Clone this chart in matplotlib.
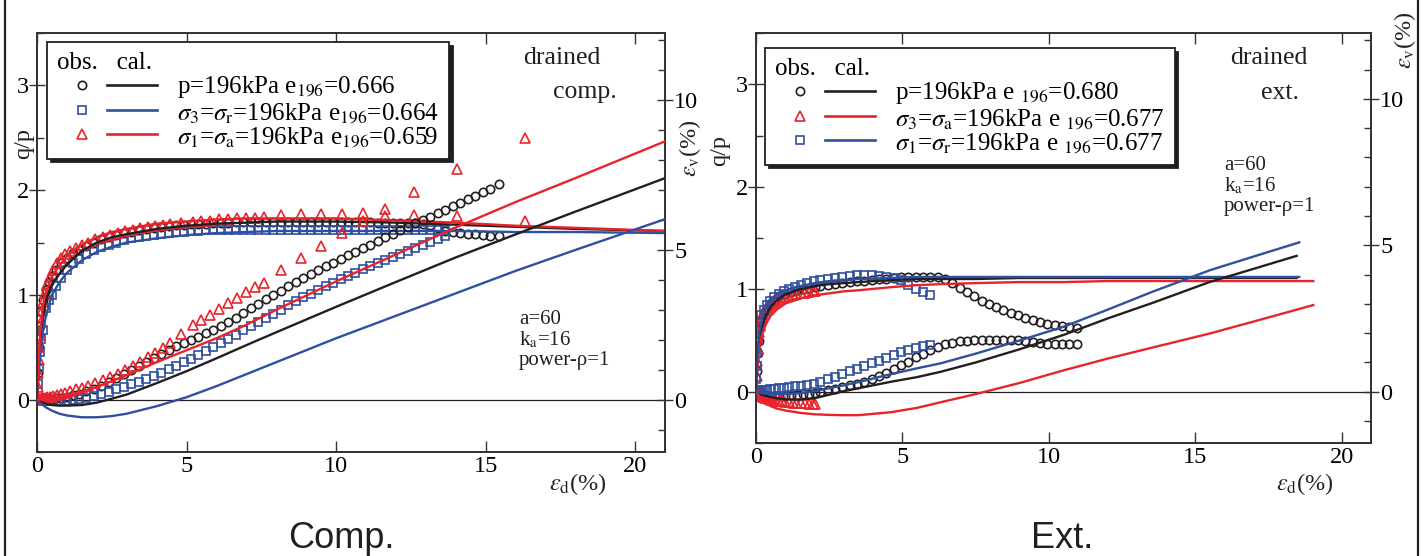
import matplotlib.pyplot as plt
from matplotlib.lines import Line2D
from matplotlib.legend_handler import HandlerTuple
from matplotlib.ticker import MultipleLocator

plt.rcParams['font.family'] = ['Liberation Serif', 'DejaVu Serif']
plt.rcParams['mathtext.fontset'] = 'stix'

BLACK = '#231f20'
BLUE = '#2f4f9f'
RED = '#e8232b'

# ---------------- Comp. panel : observed ----------------
comp_p_ed = [0, 0.03, 0.06, 0.1, 0.15, 0.2, 0.3, 0.4, 0.5, 0.65,
             0.8, 1.0, 1.2, 1.4, 1.65, 1.9, 2.15, 2.4, 2.65, 2.9,
             3.15, 3.4, 3.65, 3.9, 4.15, 4.4, 4.65, 4.9, 5.15, 5.4,
             5.65, 5.9, 6.15, 6.4, 6.65, 6.9, 7.15, 7.4, 7.65, 7.9,
             8.15, 8.4, 8.65, 8.9, 9.15, 9.4, 9.65, 9.9, 10.15, 10.4,
             10.65, 10.9, 11.15, 11.4, 11.65, 11.9, 12.15, 12.4, 12.65, 12.9,
             13.15, 13.4, 13.65, 13.9, 14.15, 14.4, 14.65, 14.9, 15.15, 15.45]
comp_p_qp = [0, 0.25, 0.5, 0.7, 0.85, 0.95, 1.05, 1.12, 1.18, 1.24,
             1.3, 1.35, 1.4, 1.43, 1.47, 1.5, 1.53, 1.55, 1.57, 1.59,
             1.6, 1.62, 1.63, 1.64, 1.65, 1.66, 1.67, 1.67, 1.68, 1.68,
             1.68, 1.69, 1.69, 1.69, 1.7, 1.7, 1.7, 1.7, 1.7, 1.7,
             1.7, 1.7, 1.7, 1.7, 1.7, 1.7, 1.7, 1.7, 1.7, 1.7,
             1.7, 1.7, 1.7, 1.69, 1.69, 1.69, 1.69, 1.69, 1.69, 1.68,
             1.67, 1.64, 1.61, 1.6, 1.59, 1.58, 1.58, 1.57, 1.56, 1.56]
comp_p_ev = [0, 0, 0, 0, 0.01, 0.01, 0.01, 0.02, 0.02, 0.04,
             0.07, 0.1, 0.15, 0.2, 0.28, 0.37, 0.47, 0.6, 0.72, 0.85,
             0.98, 1.12, 1.25, 1.4, 1.53, 1.66, 1.78, 1.88, 1.98, 2.1,
             2.22, 2.34, 2.47, 2.6, 2.74, 2.88, 3.06, 3.2, 3.35, 3.5,
             3.64, 3.79, 3.93, 4.06, 4.19, 4.32, 4.45, 4.58, 4.7, 4.82,
             4.94, 5.06, 5.18, 5.3, 5.42, 5.54, 5.66, 5.78, 5.89, 6.0,
             6.11, 6.23, 6.35, 6.47, 6.58, 6.7, 6.82, 6.93, 7.05, 7.2]

comp_r_ed = [0, 0.03, 0.06, 0.1, 0.15, 0.2, 0.3, 0.4, 0.5, 0.65,
             0.8, 1.0, 1.2, 1.4, 1.65, 1.9, 2.15, 2.4, 2.65, 2.9,
             3.15, 3.4, 3.65, 3.9, 4.15, 4.4, 4.65, 4.9, 5.15, 5.4,
             5.65, 5.9, 6.15, 6.4, 6.65, 6.9, 7.15, 7.4, 7.65, 7.9,
             8.15, 8.4, 8.65, 8.9, 9.15, 9.4, 9.65, 9.9, 10.15, 10.4,
             10.65, 10.9, 11.15, 11.4, 11.65, 11.9, 12.15, 12.4, 12.65, 12.9,
             13.15, 13.4, 13.65]
comp_r_qp = [0, 0.15, 0.3, 0.45, 0.58, 0.66, 0.87, 0.95, 1.0, 1.08,
             1.16, 1.24, 1.3, 1.34, 1.39, 1.43, 1.46, 1.48, 1.5, 1.52,
             1.54, 1.55, 1.56, 1.57, 1.58, 1.59, 1.6, 1.6, 1.61, 1.61,
             1.62, 1.62, 1.62, 1.62, 1.62, 1.62, 1.62, 1.62, 1.62, 1.62,
             1.62, 1.62, 1.62, 1.62, 1.62, 1.62, 1.62, 1.62, 1.62, 1.62,
             1.62, 1.62, 1.62, 1.62, 1.62, 1.62, 1.62, 1.62, 1.62, 1.62,
             1.62, 1.62, 1.62]
comp_r_ev = [0, 0, -0.01, -0.01, -0.02, -0.02, -0.03, -0.04, -0.05, -0.05,
             -0.05, -0.04, -0.02, 0.01, 0.06, 0.12, 0.19, 0.26, 0.34, 0.43,
             0.51, 0.6, 0.69, 0.79, 0.9, 1.01, 1.13, 1.25, 1.37, 1.49,
             1.62, 1.75, 1.89, 2.03, 2.17, 2.31, 2.45, 2.59, 2.73, 2.87,
             3.01, 3.15, 3.29, 3.42, 3.54, 3.66, 3.78, 3.9, 4.02, 4.13,
             4.24, 4.35, 4.46, 4.56, 4.66, 4.76, 4.86, 4.96, 5.06, 5.16,
             5.26, 5.36, 5.46]

comp_a_ed = [0, 0.02, 0.04, 0.06, 0.08, 0.1, 0.13, 0.17, 0.21, 0.27,
             0.35, 0.43, 0.55, 0.67, 0.8, 0.95, 1.1, 1.3, 1.5, 1.7,
             1.95, 2.2, 2.45, 2.7, 2.95, 3.2, 3.45, 3.7, 3.95, 4.2,
             4.45, 4.8, 5.2, 5.5, 5.8, 6.1, 6.4, 6.7, 7.0, 7.3,
             7.6, 8.16, 8.82, 9.49, 10.21, 10.9, 11.63, 12.6, 14.04, 16.33]
comp_a_qp = [0, 0.12, 0.25, 0.38, 0.5, 0.62, 0.74, 0.85, 0.93, 1.02,
             1.1, 1.17, 1.24, 1.3, 1.35, 1.39, 1.42, 1.45, 1.48, 1.5,
             1.53, 1.55, 1.57, 1.59, 1.61, 1.62, 1.64, 1.65, 1.66, 1.67,
             1.68, 1.69, 1.7, 1.71, 1.71, 1.72, 1.72, 1.73, 1.73, 1.73,
             1.74, 1.76, 1.77, 1.77, 1.77, 1.78, 1.75, 1.76, 1.75, 1.71]
comp_a_ev = [0, 0, 0.01, 0.01, 0.02, 0.02, 0.03, 0.04, 0.05, 0.06,
             0.08, 0.1, 0.13, 0.16, 0.19, 0.23, 0.28, 0.34, 0.4, 0.47,
             0.56, 0.66, 0.76, 0.87, 0.99, 1.12, 1.27, 1.42, 1.57, 1.73,
             1.9, 2.2, 2.5, 2.65, 2.83, 3.02, 3.22, 3.4, 3.58, 3.75,
             3.91, 4.32, 4.73, 5.13, 5.58, 5.97, 6.37, 6.93, 7.69, 8.73]

# ---------------- Comp. panel : calculated ----------------
comp_cal_ed = [0, 0.05, 0.1, 0.2, 0.3, 0.5, 0.75, 1, 1.5, 2, 2.5, 3,
               4, 5, 6, 7, 8, 10, 12, 14, 16, 18, 21]
comp_cal_p_qp = [0, 0.3, 0.5, 0.8, 0.95, 1.1, 1.2, 1.29, 1.42, 1.5, 1.55, 1.58,
                 1.63, 1.66, 1.68, 1.69, 1.7, 1.7, 1.69, 1.67, 1.65, 1.63, 1.61]
comp_cal_p_ev = [0, -0.03, -0.06, -0.1, -0.14, -0.18, -0.2, -0.2, -0.18, -0.1, 0.03, 0.17,
                 0.55, 0.95, 1.38, 1.82, 2.25, 3.1, 3.93, 4.75, 5.52, 6.28, 7.4]
comp_cal_r_qp = [0, 0.2, 0.4, 0.65, 0.8, 1.0, 1.12, 1.21, 1.33, 1.41, 1.46, 1.5,
                 1.54, 1.57, 1.59, 1.6, 1.61, 1.61, 1.61, 1.61, 1.6, 1.6, 1.59]
comp_cal_r_ev = [0, -0.05, -0.1, -0.18, -0.26, -0.37, -0.47, -0.53, -0.59, -0.59, -0.55, -0.47,
                 -0.22, 0.08, 0.45, 0.85, 1.25, 2.05, 2.8, 3.55, 4.3, 5.0, 6.03]
comp_cal_a_qp = [0, 0.35, 0.6, 0.9, 1.03, 1.18, 1.28, 1.37, 1.48, 1.55, 1.6, 1.63,
                 1.68, 1.7, 1.72, 1.73, 1.73, 1.73, 1.71, 1.69, 1.66, 1.64, 1.61]
comp_cal_a_ev = [0, 0, 0.01, 0.02, 0.03, 0.05, 0.09, 0.14, 0.26, 0.42, 0.62, 0.82,
                 1.25, 1.65, 2.05, 2.5, 3.0, 3.95, 4.85, 5.75, 6.6, 7.4, 8.63]

# ---------------- Ext. panel : observed ----------------
ext_p_ed = [0, 0.03, 0.06, 0.1, 0.15, 0.2, 0.3, 0.4, 0.5, 0.65,
            0.8, 1.0, 1.2, 1.4, 1.6, 1.8, 2.0, 2.2, 2.45, 2.7,
            2.95, 3.2, 3.45, 3.7, 3.95, 4.2, 4.45, 4.7, 4.95, 5.2,
            5.45, 5.7, 5.95, 6.2, 6.45, 6.7, 6.95, 7.2, 7.45, 7.7,
            7.95, 8.2, 8.45, 8.7, 8.95, 9.2, 9.45, 9.7, 9.95, 10.2,
            10.45, 10.7, 10.95]
ext_p_qp = [0, 0.2, 0.38, 0.5, 0.62, 0.7, 0.78, 0.83, 0.87, 0.9,
            0.93, 0.95, 0.97, 0.99, 1.0, 1.01, 1.02, 1.03, 1.04, 1.05,
            1.06, 1.07, 1.08, 1.08, 1.09, 1.1, 1.1, 1.11, 1.12, 1.12,
            1.12, 1.12, 1.12, 1.12, 1.1, 1.06, 1.01, 0.97, 0.93, 0.89,
            0.86, 0.83, 0.8, 0.77, 0.75, 0.72, 0.7, 0.68, 0.66, 0.65,
            0.64, 0.63, 0.62]
ext_p_ev = [0, -0.02, -0.04, -0.06, -0.08, -0.1, -0.12, -0.14, -0.15, -0.15,
            -0.15, -0.14, -0.12, -0.1, -0.08, -0.06, -0.03, 0.0, 0.05, 0.1,
            0.16, 0.22, 0.28, 0.35, 0.44, 0.54, 0.65, 0.77, 0.9, 1.03,
            1.17, 1.3, 1.42, 1.53, 1.62, 1.68, 1.72, 1.75, 1.77, 1.78,
            1.78, 1.78, 1.78, 1.78, 1.77, 1.74, 1.7, 1.66, 1.63, 1.62,
            1.62, 1.62, 1.62]

ext_a_ed = [0, 0.02, 0.04, 0.06, 0.08, 0.1, 0.13, 0.16, 0.2, 0.25,
            0.3, 0.36, 0.43, 0.5, 0.58, 0.67, 0.77, 0.88, 1.0, 1.12,
            1.25, 1.38, 1.52, 1.66, 1.8, 1.94, 2.02]
ext_a_qp = [0, 0.15, 0.3, 0.42, 0.52, 0.58, 0.64, 0.69, 0.73, 0.77,
            0.8, 0.82, 0.84, 0.86, 0.87, 0.89, 0.9, 0.91, 0.92, 0.93,
            0.94, 0.95, 0.96, 0.96, 0.97, 0.98, 0.98]
ext_a_ev = [0, -0.02, -0.04, -0.06, -0.08, -0.1, -0.12, -0.14, -0.16, -0.19,
            -0.21, -0.23, -0.25, -0.27, -0.29, -0.3, -0.32, -0.33, -0.35, -0.36,
            -0.37, -0.38, -0.39, -0.4, -0.41, -0.42, -0.42]

ext_r_ed = [0, 0.01, 0.02, 0.03, 0.05, 0.08, 0.12, 0.18, 0.26, 0.36,
            0.48, 0.62, 0.78, 0.95, 1.13, 1.32, 1.52, 1.74, 1.97, 2.2,
            2.45, 2.7, 2.95, 3.2, 3.45, 3.7, 3.95, 4.2, 4.45, 4.7,
            4.95, 5.2, 5.45, 5.7, 5.95]
ext_r_qp = [0, 0.12, 0.25, 0.38, 0.5, 0.6, 0.68, 0.75, 0.8, 0.85,
            0.89, 0.92, 0.95, 0.98, 1.0, 1.02, 1.04, 1.06, 1.08, 1.09,
            1.1, 1.11, 1.12, 1.13, 1.14, 1.14, 1.14, 1.13, 1.12, 1.11,
            1.09, 1.04, 1.0, 0.97, 0.94]
ext_r_ev = [0, 0, 0.01, 0.01, 0.02, 0.03, 0.04, 0.05, 0.06, 0.07,
            0.08, 0.1, 0.12, 0.14, 0.16, 0.18, 0.2, 0.23, 0.28, 0.35,
            0.42, 0.51, 0.6, 0.7, 0.79, 0.88, 0.97, 1.06, 1.16, 1.27,
            1.37, 1.44, 1.5, 1.55, 1.59]

# ---------------- Ext. panel : calculated ----------------
ext_cal_p_ed = [0, 0.05, 0.1, 0.2, 0.3, 0.5, 0.7, 1, 1.5, 2, 2.5, 3,
                3.5, 4.6, 5.5, 6.3, 7.5, 9, 10.5, 12, 13.5, 15.5, 17, 18.46]
ext_cal_p_qp = [0, 0.3, 0.45, 0.62, 0.72, 0.83, 0.89, 0.95, 1.0, 1.03, 1.05, 1.06,
                1.07, 1.09, 1.1, 1.1, 1.1, 1.11, 1.11, 1.11, 1.11, 1.11, 1.11, 1.11]
ext_cal_p_ev = [0, -0.03, -0.06, -0.1, -0.13, -0.18, -0.22, -0.26, -0.27, -0.22, -0.1, 0.02,
                0.12, 0.34, 0.5, 0.68, 1.0, 1.45, 1.94, 2.5, 3.02, 3.75, 4.2, 4.64]
ext_cal_r_ed = [0, 0.05, 0.1, 0.2, 0.3, 0.5, 0.7, 1, 1.5, 2, 2.5, 3,
                3.5, 4.6, 5.5, 6.3, 7.5, 9, 10.5, 12, 13.5, 15.5, 17, 18.55]
ext_cal_r_qp = [0, 0.35, 0.55, 0.72, 0.8, 0.9, 0.95, 0.99, 1.03, 1.06, 1.08, 1.09,
                1.1, 1.11, 1.12, 1.12, 1.12, 1.12, 1.12, 1.12, 1.12, 1.12, 1.12, 1.12]
ext_cal_r_ev = [0, -0.02, -0.03, -0.05, -0.06, -0.07, -0.08, -0.08, -0.05, 0.02, 0.12, 0.22,
                0.33, 0.6, 0.8, 0.97, 1.3, 1.75, 2.22, 2.8, 3.4, 4.15, 4.62, 5.1]
ext_cal_a_ed = [0, 0.05, 0.1, 0.2, 0.3, 0.5, 0.7, 1, 1.5, 2, 2.5, 3,
                3.5, 4.6, 5.5, 6.3, 7.5, 9, 10.5, 12, 13.5, 15.5, 17, 19.03]
ext_cal_a_qp = [0, 0.25, 0.4, 0.55, 0.64, 0.74, 0.8, 0.86, 0.91, 0.94, 0.96, 0.98,
                0.99, 1.02, 1.04, 1.05, 1.06, 1.07, 1.07, 1.08, 1.08, 1.08, 1.08, 1.08]
ext_cal_a_ev = [0, -0.08, -0.15, -0.27, -0.37, -0.49, -0.57, -0.64, -0.72, -0.77, -0.79, -0.8,
                -0.8, -0.7, -0.55, -0.36, -0.08, 0.3, 0.73, 1.13, 1.5, 1.99, 2.4, 2.96]

comp_labels = ['p=196kPa e$_{196}$=0.666',
               r'$\sigma_3$=$\sigma_\mathrm{r}$=196kPa e$_{196}$=0.664',
               r'$\sigma_1$=$\sigma_\mathrm{a}$=196kPa e$_{196}$=0.659']
ext_labels = ['p=196kPa e $_{196}$=0.680',
              r'$\sigma_3$=$\sigma_\mathrm{a}$=196kPa e $_{196}$=0.677',
              r'$\sigma_1$=$\sigma_\mathrm{r}$=196kPa e $_{196}$=0.677']

MS_O, MS_S, MS_T = 6.0, 5.6, 6.6

W, H = 1427, 556
fig = plt.figure(figsize=(W / 100, H / 100), dpi=100)


def px_box(x0, y0, x1, y1):
    return [x0 / W, 1 - y1 / H, (x1 - x0) / W, (y1 - y0) / H]


def setup(ax, tw):
    ax.set_xlim(0, 21)
    ax.set_ylim(-0.5, 3.5)
    tw.set_ylim(-1.75, 12.25)
    ax.xaxis.set_major_locator(MultipleLocator(5))
    ax.yaxis.set_major_locator(MultipleLocator(1))
    ax.yaxis.set_minor_locator(MultipleLocator(0.5))
    tw.yaxis.set_major_locator(MultipleLocator(5))
    tw.yaxis.set_minor_locator(MultipleLocator(1))
    ax.tick_params(axis='x', which='major', direction='in', length=8, width=1,
                   top=True, labelsize=17.5, pad=3, color='#333333')
    ax.tick_params(axis='y', which='major', direction='inout', length=11, width=1,
                   labelsize=17.5, pad=0, color='#333333')
    ax.tick_params(axis='y', which='minor', direction='in', length=5, width=1, color='#333333')
    tw.tick_params(axis='y', which='major', direction='inout', length=11, width=1,
                   labelsize=17.5, pad=1, color='#333333')
    tw.tick_params(axis='y', which='minor', direction='in', length=5, width=1, color='#333333')
    for a in (ax, tw):
        for s in a.spines.values():
            s.set_linewidth(1.3)
            s.set_color('#333333')
    ax.axhline(0, color=BLACK, lw=0.9, zorder=1)


def obs(ax, x, y, marker, color, ms):
    ax.plot(x, y, ls='none', marker=marker, mfc='none', mec=color, ms=ms, mew=1.2, zorder=2)


def cal(ax, x, y, color):
    ax.plot(x, y, color=color, lw=1.7, zorder=3)


def legend(tw, labels, styles, anchor):
    handles = []
    for marker, color, ms in styles:
        handles.append((Line2D([], [], ls='none', marker=marker, mfc='none', mec=color, ms=ms, mew=1.2),
                        Line2D([], [], color=color, lw=1.9)))
    leg = tw.legend(handles, labels, handler_map={tuple: HandlerTuple(ndivide=None, pad=0)},
                    loc='upper left', bbox_to_anchor=anchor, borderaxespad=0,
                    title='obs.   cal.', alignment='left', fontsize=18, title_fontsize=18,
                    handlelength=4.0, handletextpad=0.8, labelspacing=0.02, borderpad=0.4,
                    fancybox=False, framealpha=1, edgecolor=BLACK,
                    shadow={'ox': 2.6, 'oy': -2.6, 'facecolor': BLACK, 'edgecolor': BLACK, 'alpha': 1})
    leg.get_frame().set_linewidth(1.3)


# ---------------- Comp. ----------------
ax1 = fig.add_axes(px_box(37, 33, 665, 452))
tw1 = ax1.twinx()
setup(ax1, tw1)
obs(ax1, comp_p_ed, comp_p_qp, 'o', BLACK, MS_O)
obs(ax1, comp_r_ed, comp_r_qp, 's', BLUE, MS_S)
obs(ax1, comp_a_ed, comp_a_qp, '^', RED, MS_T)
obs(tw1, comp_p_ed, comp_p_ev, 'o', BLACK, MS_O)
obs(tw1, comp_r_ed, comp_r_ev, 's', BLUE, MS_S)
obs(tw1, comp_a_ed, comp_a_ev, '^', RED, MS_T)
cal(tw1, comp_cal_ed, comp_cal_p_ev, BLACK)
cal(tw1, comp_cal_ed, comp_cal_r_ev, BLUE)
cal(tw1, comp_cal_ed, comp_cal_a_ev, RED)
cal(ax1, comp_cal_ed, comp_cal_p_qp, BLACK)
cal(ax1, comp_cal_ed, comp_cal_r_qp, BLUE)
cal(ax1, comp_cal_ed, comp_cal_a_qp, RED)
legend(tw1, comp_labels, [('o', BLACK, MS_O), ('s', BLUE, MS_S), ('^', RED, MS_T)],
       ((47 - 37) / 628, (452 - 42) / 419))

# ---------------- Ext. ----------------
ax2 = fig.add_axes(px_box(756, 33, 1371, 443))
tw2 = ax2.twinx()
setup(ax2, tw2)
obs(ax2, ext_p_ed, ext_p_qp, 'o', BLACK, MS_O)
obs(ax2, ext_a_ed, ext_a_qp, '^', RED, MS_T)
obs(ax2, ext_r_ed, ext_r_qp, 's', BLUE, MS_S)
obs(tw2, ext_p_ed, ext_p_ev, 'o', BLACK, MS_O)
obs(tw2, ext_a_ed, ext_a_ev, '^', RED, MS_T)
obs(tw2, ext_r_ed, ext_r_ev, 's', BLUE, MS_S)
cal(tw2, ext_cal_p_ed, ext_cal_p_ev, BLACK)
cal(tw2, ext_cal_a_ed, ext_cal_a_ev, RED)
cal(tw2, ext_cal_r_ed, ext_cal_r_ev, BLUE)
cal(ax2, ext_cal_p_ed, ext_cal_p_qp, BLACK)
cal(ax2, ext_cal_a_ed, ext_cal_a_qp, RED)
cal(ax2, ext_cal_r_ed, ext_cal_r_qp, BLUE)
legend(tw2, ext_labels, [('o', BLACK, MS_O), ('^', RED, MS_T), ('s', BLUE, MS_S)],
       ((765 - 756) / 615, (443 - 48) / 410))

# ---------------- labels / annotations ----------------
def ftext(x, y, s, **kw):
    kw.setdefault('fontsize', 17.5)
    kw.setdefault('ha', 'center')
    kw.setdefault('va', 'center')
    fig.text(x / W, 1 - y / H, s, color=BLACK, **kw)


ftext(24, 144, 'q/p', rotation=90)
ftext(690, 148, r'$\varepsilon_\mathrm{v}$(%)', rotation=90)
ftext(720, 150, 'q/p', rotation=90)
ftext(1405, 40, r'$\varepsilon_\mathrm{v}$(%)', rotation=90)
ftext(578, 484, r'$\varepsilon_\mathrm{d}$(%)')
ftext(1305, 484, r'$\varepsilon_\mathrm{d}$(%)')

ftext(562, 58, 'drained', fontsize=18.5)
ftext(585, 92, 'comp.', fontsize=18.5)
ftext(1269, 58, 'drained', fontsize=18.5)
ftext(1280, 93, 'ext.', fontsize=18.5)

for x0, y0 in ((519, 320), (1224, 166)):
    ftext(x0, y0, 'a=60', ha='left', fontsize=15)
    ftext(x0, y0 + 20, r'k$_\mathrm{a}$=16', ha='left', fontsize=15)
    ftext(x0, y0 + 41, 'power-ρ=1', ha='left', fontsize=15)

ftext(341, 538, 'Comp.', family='Liberation Sans', fontsize=26)
ftext(1062, 538, 'Ext.', family='Liberation Sans', fontsize=26)

for xf in (5, 1418):
    fig.add_artist(Line2D([xf / W, xf / W], [0, 1], transform=fig.transFigure,
                          color=BLACK, lw=1.6))

fig.savefig('out.png', dpi=100)
